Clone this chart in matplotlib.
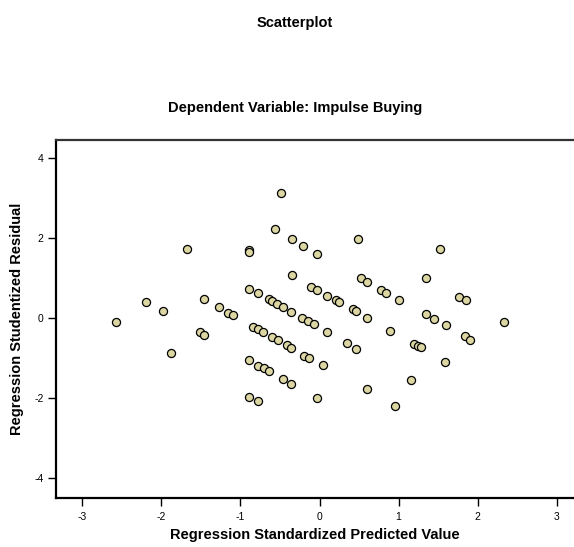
import matplotlib.pyplot as plt

plt.rcParams['font.family'] = ['Liberation Sans', 'DejaVu Sans']
plt.rcParams['axes.unicode_minus'] = False

# standardized predicted values (x) and studentized residuals (y)
pred = [-2.577, -2.198, -1.983, -1.882, -1.680, -1.515, -1.457, -1.457, -1.271, -1.153,
        -1.098, -0.892, -0.888, -0.888, -0.778, -0.639, -0.597, -0.534, -0.465, -0.357,
        -0.218, -0.145, -0.073, -0.104, -0.032, 0.099, 0.205, 0.250, 0.420, 0.462,
        0.601, 0.771, 0.845, 1.002, 0.099, 0.348, 0.465, 0.888, -0.837, -0.774,
        -0.711, -0.597, -0.525, -0.415, -0.357, -0.192, -0.137, 0.040, -0.888, -0.774,
        -0.706, -0.639, -0.462, -0.357, -0.888, -0.778, -0.035, 0.601, 0.951, -0.491,
        -0.567, -0.352, -0.209, -0.035, 0.491, -0.352, 0.529, 0.601, 1.524, 1.343,
        1.768, 1.849, 1.347, 1.452, 1.596, 2.333, 1.199, 1.250, 1.280, 1.836,
        1.907, 1.591, 1.157]
resid = [-0.085, 0.410, 0.175, -0.875, 1.725, -0.350, -0.425, 0.475, 0.290, 0.140,
         0.083, 1.708, 1.665, 0.745, 0.633, 0.495, 0.445, 0.365, 0.290, 0.165,
         0.015, -0.068, -0.143, 0.795, 0.708, 0.570, 0.450, 0.408, 0.233, 0.183,
         0.015, 0.720, 0.638, 0.458, -0.335, -0.610, -0.775, -0.310, -0.210, -0.275,
         -0.350, -0.468, -0.550, -0.660, -0.735, -0.935, -1.000, -1.160, -1.050, -1.193,
         -1.250, -1.318, -1.518, -1.650, -1.960, -2.068, -1.985, -1.775, -2.193, 3.140,
         2.225, 1.983, 1.815, 1.615, 1.983, 1.083, 1.015, 0.915, 1.725, 1.008,
         0.540, 0.458, 0.100, -0.018, -0.175, -0.093, -0.650, -0.693, -0.725, -0.443,
         -0.535, -1.085, -1.550]

xticks = [-3, -2, -1, 0, 1, 2, 3]
yticks = [-4, -2, 0, 2, 4]

fig = plt.figure(figsize=(5.74, 5.47), dpi=100)
ax = fig.add_axes([0.0976, 0.0901, 0.9024, 0.654])

ax.scatter(pred, resid, s=34, facecolor='#dcd6a2', edgecolor='black', linewidth=0.9, zorder=3)

ax.set_xlim(-3.333, 3.218)
ax.set_ylim(-4.485, 4.46)
ax.set_xticks(xticks)
ax.set_yticks(yticks)
ax.tick_params(direction='out', length=6, width=1, labelsize=7.5)
ax.tick_params(axis='x', pad=4.5)
ax.tick_params(axis='y', pad=3)

ax.spines['right'].set_visible(False)
ax.spines['left'].set_linewidth(1.6)
ax.spines['bottom'].set_linewidth(1.6)
ax.spines['top'].set_linewidth(1.6)
ax.spines['top'].set_color('#333333')

ax.set_xlabel('Regression Standardized Predicted Value', fontsize=10.5, fontweight='bold', labelpad=4)
ax.set_ylabel('Regression Studentized Residual', fontsize=10.5, fontweight='bold', labelpad=7)

fig.text(295 / 574, 1 - 23 / 547, 'Scatterplot', ha='center', va='center',
         fontsize=10.5, fontweight='bold')
fig.text(295 / 574, 1 - 108 / 547, 'Dependent Variable: Impulse Buying', ha='center', va='center',
         fontsize=10.5, fontweight='bold')

fig.savefig('out.png', dpi=100)
